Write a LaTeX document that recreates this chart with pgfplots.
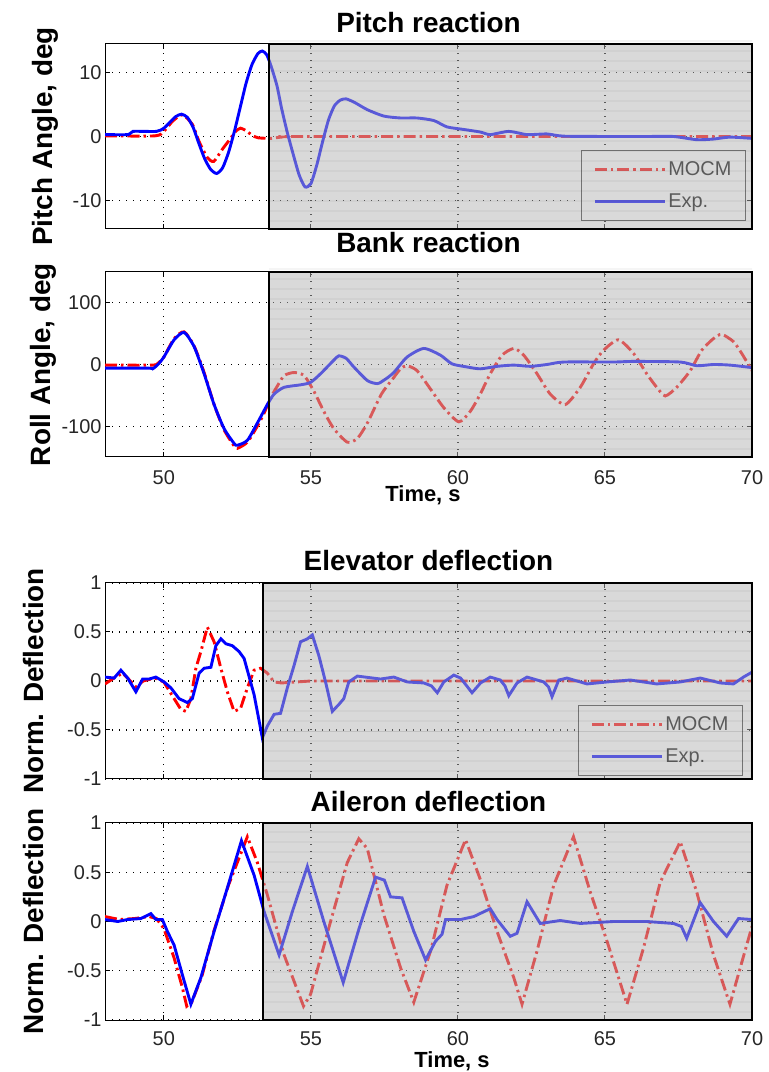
\documentclass[border=0pt]{standalone}
\usepackage{fontspec}
\setmainfont{Liberation Sans}
\usepackage{pgfplots}
\pgfplotsset{compat=1.18}
\usetikzlibrary{calc}
\definecolor{ovl}{RGB}{180,180,180}
\definecolor{mred}{RGB}{255,0,0}
\definecolor{mblue}{RGB}{0,0,255}
\pgfplotsset{
 every axis title/.style={at={(axis description cs:0.5,1)}, anchor=base, font=\bfseries\fontsize{28}{30}\selectfont},
 every axis y label/.style={at={(axis description cs:-0.08,0.5)}, rotate=90, anchor=base, font=\bfseries\fontsize{28}{30}\selectfont},
 every axis x label/.style={at={(axis description cs:0.5,-0.23)}, anchor=base, font=\bfseries\fontsize{22}{24}\selectfont},
 myax/.style={
  scale only axis, width=647bp,
  xmin=48, xmax=70,
  xtick={50,55,60,65,70},
  grid=major,
  major grid style={black, line width=1.3bp, dash pattern=on 1.3bp off 5.7bp},
  axis line style={black, line width=1bp},
  tick style={black, line width=1bp},
  major tick length=5bp,
  tick align=inside,
  ticklabel style={font=\fontsize{20}{22}\selectfont, text=black!85},
  legend image code/.code={\draw[##1, line width=3bp] (-6bp,0bp) -- (64bp,0bp);},
  legend cell align=left,
 },
 mylegend/.style={legend style={draw=black!80, line width=1.2bp, fill=white,
   font=\fontsize{20}{22}\selectfont, inner xsep=12bp, inner ysep=9bp, row sep=13bp}},
 mocm/.style={mred, line width=2.9bp, dash pattern=on 12bp off 4bp on 2.5bp off 4bp},
 expst/.style={mblue, line width=2.9bp},
}
\newcommand{\shadereg}[2]{%
\fill[ovl, opacity=0.5] ($(#1.south west)!#2!(#1.south east)$) rectangle (#1.north east);
\foreach \k in {1,...,19} \draw[black, opacity=0.11, line width=0.6bp] ($(#1.south west)!#2!(#1.south east)+(0,\k*10bp-2bp)$) -- ($(#1.south east)+(0,\k*10bp-2bp)$);
\draw[black, line width=1.6bp] ($(#1.south west)!#2!(#1.south east)$) rectangle (#1.north east);}
\begin{document}
\begin{tikzpicture}
% ---------------- Pitch ----------------
\begin{axis}[myax, name=p1, at={(105bp,843bp)}, anchor=south west, height=185bp,
  ymin=-14.5, ymax=14.5, ytick={-10,0,10}, yticklabels={-10,0,10}, xticklabels={},
  title={Pitch reaction}, title style={yshift=11bp},
  ylabel={Pitch Angle, deg}, ylabel style={at={(axis description cs:-0.0804,0.5)}},
  mylegend, legend style={at={(axis description cs:0.9907,0.043)}, anchor=south east}]
\addplot[mocm, smooth, tension=0.4] coordinates {(48,0.1) (49.7,0.1) (50,0.8) (50.3,2.4) (50.63,3.4) (50.97,1.9) (51.2,-0.8) (51.48,-3.3) (51.7,-3.9) (51.99,-2.0) (52.27,-0.3) (52.44,0.8) (52.61,1.3) (52.8,0.9) (53.0,0.2) (53.2,-0.2) (53.65,-0.3) (54,-0.1) (55,0) (70,0)};
\addlegendentry{MOCM}
\addplot[expst, smooth, tension=0.4] coordinates {(48,0.3) (48.8,0.3) (48.95,0.8) (49.75,0.8) (50,1.3) (50.2,2.2) (50.4,3.1) (50.6,3.5) (50.8,3.0) (51.0,1.4) (51.2,-1.2) (51.4,-3.6) (51.6,-5.2) (51.8,-5.8) (52.0,-4.9) (52.2,-2.5) (52.4,0.8) (52.6,4.6) (52.8,8.4) (53.0,11.3) (53.2,13.0) (53.35,13.4) (53.5,12.8) (53.65,11.0) (53.85,7.9) (54.0,4.5) (54.2,0.6) (54.4,-2.8) (54.6,-6.0) (54.8,-7.9) (55.0,-7.4) (55.2,-4.5) (55.4,-0.8) (55.6,2.6) (55.8,4.8) (56.0,5.7) (56.2,5.9) (56.5,5.3) (56.92,4.2) (57.48,3.2) (58.05,2.9) (58.61,2.9) (59.18,2.5) (59.63,1.5) (60.2,1.1) (60.76,0.7) (61.1,0.3) (61.73,0.8) (62.35,0.3) (63.03,0.4) (63.6,0.05) (65.29,0) (66.42,0) (67.33,0) (68.12,-0.5) (68.69,-0.4) (69.25,-0.1) (70,-0.3)};
\addlegendentry{Exp.}
\end{axis}
\shadereg{p1}{0.2535}
% ---------------- Bank ----------------
\begin{axis}[myax, name=p2, at={(105bp,615bp)}, anchor=south west, height=185bp,
  ymin=-150, ymax=150, ytick={-100,0,100}, yticklabels={-100,0,100},
  xticklabels={50,55,60,65,70}, xticklabel style={anchor=base, yshift=-28bp},
  title={Bank reaction}, title style={yshift=19bp},
  ylabel={Roll Angle, deg}, ylabel style={at={(axis description cs:-0.085,0.5)}},
  xlabel={Time, s}, xlabel style={at={(axis description cs:0.4915,-0.2424)}}]
\addplot[mocm, smooth, tension=0.4] coordinates {(48,-1) (49.6,-1) (49.8,2) (50,12) (50.35,42) (50.69,53) (51.03,30) (51.37,-13) (51.71,-65) (52.05,-106) (52.39,-132) (52.5,-136) (52.84,-126) (53.18,-100) (53.4,-80) (53.63,-54) (53.86,-35) (54.09,-18) (54.43,-13) (54.77,-18) (55.1,-43) (55.44,-76) (55.78,-104) (56.24,-126) (56.58,-120) (56.92,-95) (57.4,-48) (57.82,-21) (58.05,-7) (58.27,-2) (58.61,-10) (59.07,-40) (59.52,-70) (60.03,-93) (60.42,-76) (60.76,-48) (61.1,-15) (61.5,15) (61.9,26) (62.24,15) (62.69,-15) (63.14,-48) (63.65,-65) (64.16,-37) (64.61,1) (64.95,23) (65.46,40) (65.97,18) (66.42,-15) (66.76,-37) (67.05,-51) (67.44,-37) (67.9,-10) (68.29,23) (68.69,42) (68.97,49) (69.37,37) (69.65,18) (70,-10)};
\addplot[expst, smooth, tension=0.4] coordinates {(48,-6) (49.5,-6) (49.62,-7) (49.8,0) (50,12) (50.35,40) (50.69,52) (51.03,29) (51.37,-15) (51.71,-65) (52.05,-104) (52.39,-128) (52.5,-131) (52.84,-123) (53.18,-95) (53.52,-65) (53.75,-48) (54.09,-37) (54.65,-33) (54.99,-29) (55.33,-15) (55.78,7) (55.95,14) (56.2,10) (56.46,-4) (56.92,-26) (57.26,-31) (57.5,-25) (57.82,-13) (58.27,12) (58.84,26) (59.41,15) (59.8,1) (60.31,-4) (60.76,-7) (61.33,-3) (61.9,-1) (62.46,-3) (63.03,0) (63.6,4) (65.29,4) (65.97,5) (67.56,4) (68.12,-2) (68.69,0) (69.25,-1) (70,-5)};
\end{axis}
\shadereg{p2}{0.2535}
% ---------------- Elevator ----------------
\begin{axis}[myax, name=p3, at={(105bp,293bp)}, anchor=south west, height=196bp,
  ymin=-1, ymax=1, ytick={-1,-0.5,0,0.5,1}, yticklabels={-1,-0.5,0,0.5,1}, xticklabels={},
  title={Elevator deflection}, title style={yshift=12bp},
  ylabel={Norm. Deflection}, ylabel style={at={(axis description cs:-0.0943,0.5)}},
  mylegend, legend style={at={(axis description cs:0.986,0.015)}, anchor=south east}]
\addplot[mocm] coordinates {(48,-0.03) (48.3,0.03) (48.6,0.08) (48.8,0.02) (49.05,-0.06) (49.3,0.0) (49.7,0.03) (50,-0.01) (50.35,-0.18) (50.58,-0.29) (50.75,-0.31) (50.92,-0.18) (51.09,0.13) (51.26,0.3) (51.48,0.55) (51.71,0.4) (51.94,0.13) (52.16,-0.11) (52.39,-0.31) (52.61,-0.28) (52.84,-0.07) (53.07,0.11) (53.29,0.13) (53.52,0.08) (53.75,-0.01) (54,-0.02) (55,0) (70,0)};
\addlegendentry{MOCM}
\addplot[expst] coordinates {(48,0.04) (48.31,0.03) (48.54,0.11) (48.77,0.03) (49.05,-0.11) (49.28,0.02) (49.5,0.02) (49.73,0.04) (50.01,-0.01) (50.24,-0.07) (50.52,-0.18) (50.8,-0.22) (50.97,-0.18) (51.2,0.08) (51.37,0.13) (51.6,0.14) (51.77,0.36) (51.94,0.43) (52.11,0.38) (52.33,0.36) (52.56,0.3) (52.73,0.23) (53.07,-0.14) (53.35,-0.58) (53.52,-0.46) (53.75,-0.34) (53.97,-0.33) (54.2,-0.07) (54.43,0.16) (54.65,0.4) (54.88,0.43) (55.05,0.47) (55.27,0.26) (55.5,-0.01) (55.73,-0.31) (55.95,-0.24) (56.12,-0.18) (56.29,-0.01) (56.58,0.05) (57.37,0.02) (57.82,0.04) (58.28,-0.01) (58.84,-0.02) (59.1,-0.05) (59.3,-0.12) (59.52,-0.01) (59.86,0.06) (60.09,0.03) (60.3,-0.05) (60.48,-0.12) (60.77,-0.02) (61.1,0.04) (61.44,0.01) (61.6,-0.05) (61.73,-0.15) (62.01,-0.02) (62.35,0.04) (62.92,-0.01) (63.08,-0.06) (63.2,-0.16) (63.43,0.01) (63.71,0.03) (64.39,-0.03) (65.07,-0.01) (65.86,0.01) (66.76,-0.03) (67.56,-0.01) (68.24,0.03) (68.92,-0.02) (69.37,-0.03) (69.71,0.04) (70,0.09)};
\addlegendentry{Exp.}
\end{axis}
\shadereg{p3}{0.2442}
% ---------------- Aileron ----------------
\begin{axis}[myax, name=p4, at={(105bp,52bp)}, anchor=south west, height=197bp,
  ymin=-1, ymax=1, ytick={-1,-0.5,0,0.5,1}, yticklabels={-1,-0.5,0,0.5,1},
  xticklabels={50,55,60,65,70}, xticklabel style={anchor=base, yshift=-25bp},
  title={Aileron deflection}, title style={yshift=11bp},
  ylabel={Norm. Deflection}, ylabel style={at={(axis description cs:-0.0943,0.5)}},
  xlabel={Time, s}, xlabel style={at={(axis description cs:0.5363,-0.2386)}}]
\addplot[mocm] coordinates {(48,0.05) (48.5,0.02) (49,0.03) (49.5,0.05) (49.75,0.03) (50,-0.07) (50.35,-0.37) (50.63,-0.67) (50.78,-0.86) (50.95,-0.82) (51.3,-0.55) (51.7,-0.1) (52.2,0.37) (52.84,0.86) (53.18,0.6) (53.52,0.27) (54.09,-0.34) (54.75,-0.86) (54.99,-0.74) (55.67,0) (56.24,0.6) (56.63,0.84) (56.92,0.74) (57.48,0.07) (58.05,-0.47) (58.5,-0.82) (59.07,-0.3) (59.63,0.37) (60.26,0.83) (60.77,0.42) (61.33,-0.1) (61.9,-0.57) (62.18,-0.84) (62.69,-0.3) (63.26,0.37) (63.93,0.86) (64.5,0.3) (65.07,-0.2) (65.75,-0.84) (66.31,-0.27) (66.88,0.4) (67.56,0.81) (68.12,0.3) (68.69,-0.34) (69.25,-0.84) (69.6,-0.47) (70,-0.05)};
\addplot[expst] coordinates {(48,0.02) (48.43,0) (48.77,0.02) (49.22,0.03) (49.56,0.08) (49.73,0.02) (49.95,0.02) (50.12,-0.1) (50.35,-0.24) (50.63,-0.54) (50.92,-0.84) (51.26,-0.57) (51.71,-0.1) (52.16,0.34) (52.64,0.82) (53.07,0.47) (53.41,0.1) (53.92,-0.34) (54.37,0.1) (54.88,0.56) (55.44,0) (56.1,-0.62) (56.63,-0.08) (57.2,0.45) (57.5,0.42) (57.71,0.25) (58.1,0.24) (58.5,-0.1) (58.9,-0.39) (59.24,-0.2) (59.46,-0.13) (59.58,0.02) (60.09,0.02) (60.54,0.05) (61.1,0.13) (61.33,0.02) (61.78,-0.15) (62.01,-0.12) (62.35,0.2) (62.8,-0.02) (63.48,0.01) (64.16,-0.02) (65.29,0) (66.42,0) (67.33,-0.02) (67.6,-0.05) (67.78,-0.17) (68.24,0.19) (68.69,0) (69.14,-0.15) (69.54,0.03) (70,0.02)};
\end{axis}
\shadereg{p4}{0.2442}
\pgfresetboundingbox
\path[use as bounding box] (0,0) rectangle (769bp,1072bp);
\end{tikzpicture}
\end{document}
